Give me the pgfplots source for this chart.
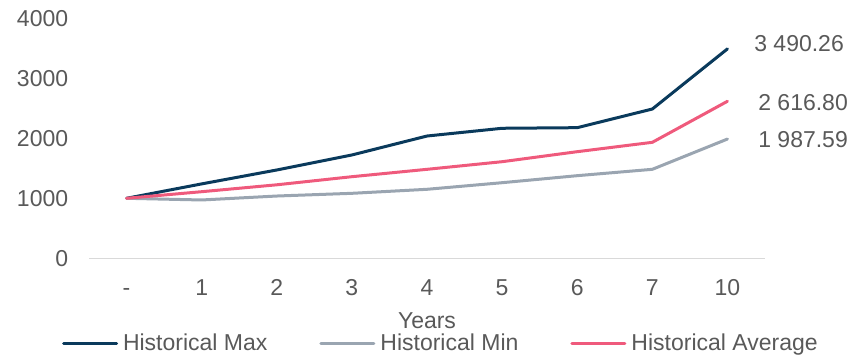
\documentclass[border=0pt]{standalone}
\usepackage{fontspec}
\setmainfont{Liberation Sans}
\usepackage{pgfplots}
\pgfplotsset{compat=1.18}

\definecolor{navy}{HTML}{0A3A5C}
\definecolor{slate}{HTML}{9AA5B1}
\definecolor{rose}{HTML}{EF5A7C}
\definecolor{txt}{HTML}{595959}
\definecolor{baseline}{HTML}{D9D9D9}

\begin{document}
\fontsize{23bp}{27bp}\selectfont
\begin{tikzpicture}
\path[use as bounding box] (0,0) rectangle (856bp,359bp);
\begin{axis}[
  at={(89bp,100.7bp)}, anchor=south west,
  scale only axis, width=676bp, height=240bp,
  xmin=-0.5, xmax=8.5, ymin=0, ymax=4000,
  xtick={0,...,8},
  xticklabels={{-},1,2,3,4,5,6,7,10},
  ytick={0,1000,2000,3000,4000},
  /pgf/number format/assume math mode=true,
  /pgf/number format/1000 sep={},
  axis x line*=bottom, axis y line*=left,
  x axis line style={draw=baseline, line width=1.2bp},
  y axis line style={draw=none},
  major tick length=0pt,
  tick label style={text=txt},
  xticklabel style={anchor=base, yshift=-37bp},
  yticklabel style={anchor=east, xshift=-13bp},
  xlabel={Years},
  xlabel style={text=txt, at={(axis description cs:0.5,-0.262)}, anchor=center},
  legend columns=3,
  legend style={draw=none, fill=none, text=txt,
    at={(axis description cs:0.519,-0.357)}, anchor=center,
    nodes={inner sep=0pt},
    /tikz/every odd column/.append style={column sep=5bp},
    /tikz/every even column/.append style={column sep=52bp}},
  legend image code/.code={\draw[#1] (0bp,0bp) -- (53bp,0bp);},
  every axis plot/.append style={line width=3bp, line join=round, line cap=round},
  clip=false,
]
% Growth of 1000 invested, by holding period
\addplot[navy] coordinates {(0,1000) (1,1240) (2,1472) (3,1722) (4,2038) (5,2167) (6,2177) (7,2488) (8,3490.26)};
\addlegendentry{Historical Max}
\addplot[slate] coordinates {(0,1000) (1,972) (2,1038) (3,1083) (4,1150) (5,1260) (6,1377) (7,1483) (8,1987.59)};
\addlegendentry{Historical Min}
\addplot[rose] coordinates {(0,1000) (1,1110) (2,1225) (3,1360) (4,1483) (5,1610) (6,1777) (7,1933) (8,2616.80)};
\addlegendentry{Historical Average}

\node[anchor=west, text=txt, xshift=19bp, yshift=5bp] at (axis cs:8,3490.26) {3 490.26};
\node[anchor=west, text=txt, xshift=23bp, yshift=-1bp] at (axis cs:8,2616.80) {2 616.80};
\node[anchor=west, text=txt, xshift=23bp, yshift=-1bp] at (axis cs:8,1987.59) {1 987.59};
\end{axis}
\end{tikzpicture}
\end{document}
